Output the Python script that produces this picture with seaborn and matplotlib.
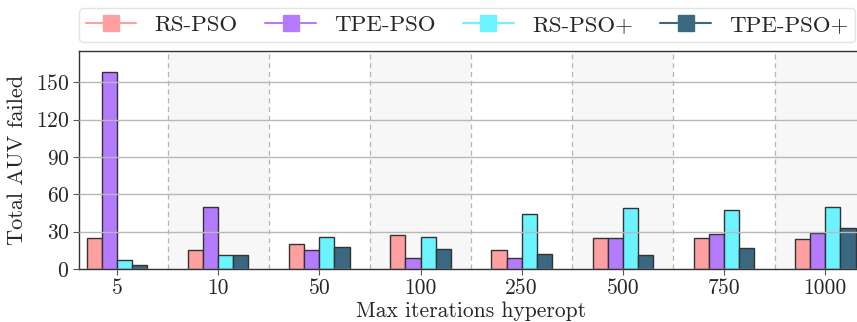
import numpy as np
import pandas as pd
import matplotlib
matplotlib.use("Agg")
import matplotlib.pyplot as plt
from matplotlib.lines import Line2D
import seaborn as sns

categories = ["5", "10", "50", "100", "250", "500", "750", "1000"]
methods = ["RS-PSO", "TPE-PSO", "RS-PSO+", "TPE-PSO+"]
rs_pso = [25, 15, 20, 27, 15, 25, 25, 24]
tpe_pso = [158, 50, 15, 9, 9, 25, 28, 29]
rs_pso_plus = [7, 11, 26, 26, 44, 49, 47, 50]
tpe_pso_plus = [3, 11, 18, 16, 12, 11, 17, 33]
colors = ["#FFA0A0", "#B57BFF", "#6BF3FF", "#3A6880"]
yticks = [0, 30, 60, 90, 120, 150]

sns.set_theme(style="white")
plt.rcParams["font.family"] = "serif"
plt.rcParams["font.serif"] = ["cmr10", "DejaVu Serif"]
plt.rcParams["mathtext.fontset"] = "cm"
plt.rcParams["axes.formatter.use_mathtext"] = True

series = [rs_pso, tpe_pso, rs_pso_plus, tpe_pso_plus]
rows = []
for m, vals in zip(methods, series):
    for c, v in zip(categories, vals):
        rows.append({"iters": c, "method": m, "value": v})
df = pd.DataFrame(rows)

fig = plt.figure(figsize=(8.57, 3.22), dpi=100)
ax = fig.add_axes([0.0922, 0.1646, 0.915, 0.677])

# background bands and separators
for i in range(len(categories)):
    if i % 2 == 1:
        ax.axvspan(i - 0.5, i + 0.5, color="#f7f7f7", zorder=0, lw=0)
for i in range(len(categories) - 1):
    ax.axvline(i + 0.5, color="#b5b5b5", ls=(0, (4, 3)), lw=0.9, zorder=0.5)

sns.barplot(data=df, x="iters", y="value", hue="method", order=categories,
            hue_order=methods, palette=colors, saturation=1, width=0.6,
            edgecolor="#333333", linewidth=1.0, ax=ax, legend=False, zorder=2)

ax.set_xlim(-0.375, 7.375)
ax.set_ylim(0, 175)
ax.set_yticks(yticks)
ax.yaxis.grid(True, color="#b8b8b8", lw=1.0, zorder=3)
ax.set_axisbelow(False)
ax.xaxis.grid(False)

for s in ax.spines.values():
    s.set_color("#333333")
    s.set_linewidth(1.0)

ax.tick_params(axis="both", labelsize=15.5, length=4, width=0.8, color="#555555",
               bottom=True, left=True, pad=3)
ax.set_xlabel("Max iterations hyperopt", fontsize=15.5, labelpad=2)
ax.set_ylabel("Total AUV failed", fontsize=16, labelpad=6)

handles = [Line2D([0], [0], color=c, marker="s", markersize=11, lw=1.5)
           for c in colors]
leg = ax.legend(handles, methods, loc="lower left", ncol=4, mode="expand",
                bbox_to_anchor=(0.0, 1.04, 0.99, 0.2), fontsize=16.5,
                handlelength=2.2, frameon=True, fancybox=True,
                borderaxespad=0, borderpad=0.3)
leg.get_frame().set_edgecolor("#dddddd")
leg.get_frame().set_linewidth(1.0)

fig.savefig("out.png", dpi=100)
